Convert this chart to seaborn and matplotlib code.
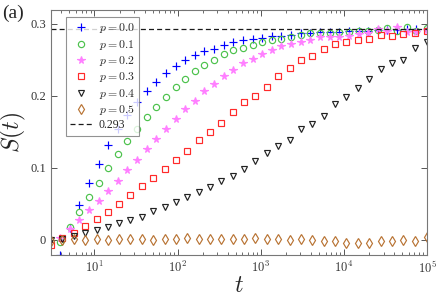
import matplotlib
matplotlib.use("Agg")
import matplotlib.pyplot as plt
import matplotlib.ticker as mticker
import numpy as np
import seaborn as sns

sns.set_theme(style="ticks")
plt.rcParams["font.family"] = ["Liberation Serif", "DejaVu Serif"]
plt.rcParams["mathtext.fontset"] = "cm"

# time grids (two sampling grids)
t_fine = [3.86, 5.04, 6.58, 8.59, 11.2, 14.6, 19.1, 24.9, 32.5, 42.5,
          55.4, 72.4, 94.5, 123, 161, 210, 274, 358, 468, 611,
          797, 1040, 1360, 1770, 2310, 3020, 3940, 5150, 6720, 8770,
          11400, 15000, 19500, 25500, 33300, 43400, 56700, 74000, 100000]
t_coarse = [3.0, 4.11, 5.63, 7.71, 10.6, 14.5, 19.8, 27.1, 37.2, 50.9,
            69.7, 95.5, 131, 179, 245, 336, 460, 630, 863, 1180,
            1620, 2220, 3040, 4160, 5700, 7810, 10700, 14700, 20100, 27500,
            37700, 51600, 70700, 100000]

s_p00 = [-0.021, 0.017, 0.0486, 0.079, 0.106, 0.132, 0.154, 0.1736, 0.1907, 0.206,
         0.219, 0.2315, 0.2407, 0.2493, 0.2565, 0.2615, 0.265, 0.2708, 0.2743, 0.277,
         0.279, 0.2806, 0.2824, 0.2833, 0.2847, 0.287, 0.287, 0.288, 0.2885, 0.289,
         0.2895, 0.290, 0.290, 0.291, 0.291, 0.2915, 0.292, 0.292, 0.292]
s_p01 = [-0.003, 0.0185, 0.039, 0.059, 0.0796, 0.0995, 0.119, 0.1366, 0.154, 0.170,
         0.184, 0.198, 0.2116, 0.2236, 0.2347, 0.243, 0.25, 0.2583, 0.263, 0.267,
         0.2708, 0.274, 0.277, 0.279, 0.282, 0.285, 0.287, 0.287, 0.287, 0.2885,
         0.2885, 0.290, 0.290, 0.2917, 0.294, 0.2905, 0.2948, 0.2895, 0.294]
s_p02 = [0.003, 0.0148, 0.0278, 0.0417, 0.0546, 0.068, 0.0824, 0.0963, 0.111, 0.126,
         0.1405, 0.154, 0.168, 0.1815, 0.193, 0.206, 0.217, 0.228, 0.236, 0.245,
         0.251, 0.258, 0.264, 0.269, 0.272, 0.274, 0.278, 0.281, 0.281, 0.282,
         0.283, 0.2857, 0.287, 0.2926, 0.2893, 0.295, 0.289, 0.288, 0.2917]
s_p03 = [-0.007, 0.002, 0.010, 0.0194, 0.029, 0.039, 0.050, 0.0625, 0.075, 0.0857,
         0.0986, 0.111, 0.124, 0.138, 0.150, 0.162, 0.178, 0.192, 0.200, 0.2115,
         0.228, 0.2385, 0.250, 0.2556, 0.265, 0.272, 0.274, 0.278, 0.279, 0.285,
         0.2824, 0.286, 0.287, 0.290]
s_p04 = [0.0, 0.001, 0.006, 0.009, 0.014, 0.0185, 0.023, 0.028, 0.0324, 0.0407,
         0.0463, 0.0532, 0.060, 0.067, 0.073, 0.082, 0.089, 0.098, 0.110, 0.120,
         0.1296, 0.138, 0.154, 0.161, 0.172, 0.189, 0.198, 0.211, 0.223, 0.2375,
         0.2454, 0.250, 0.266, 0.274]
s_p05 = [-0.002, 0.0, 0.001, 0.0, 0.001, 0.0, 0.001, 0.001, 0.001, 0.0,
         0.001, 0.001, 0.002, 0.001, 0.001, 0.001, 0.001, 0.001, 0.002, 0.001,
         0.001, 0.0, 0.001, 0.0, -0.001, -0.002, -0.005, -0.005, -0.004, -0.002,
         -0.001, 0.0, -0.002, 0.004]
s_inf = 0.293

series = [
    (t_fine, s_p00, r"$p = 0.0$", "+", "#0000ff", 5.5, True),
    (t_fine, s_p01, r"$p = 0.1$", "o", "#4cc24c", 4.5, False),
    (t_fine, s_p02, r"$p = 0.2$", "*", "#ff80ff", 5.5, True),
    (t_coarse, s_p03, r"$p = 0.3$", "s", "#ff2a2a", 4, False),
    (t_coarse, s_p04, r"$p = 0.4$", "v", "#222222", 5, False),
    (t_coarse, s_p05, r"$p = 0.5$", "d", "#b87333", 5, False),
]

fig = plt.figure(figsize=(4.42, 2.98), dpi=100)
ax = fig.add_axes([0.1154, 0.1443, 0.851, 0.822])

for t, s, lab, mk, col, ms, filled in series:
    sns.lineplot(x=t, y=s, ax=ax, marker=mk, linestyle="", color=col,
                 markersize=ms, markerfacecolor=col if filled else "none",
                 markeredgecolor=col, markeredgewidth=0.85, label=lab,
                 estimator=None, sort=False)

ax.axhline(s_inf, color="k", ls="--", lw=0.9, dashes=(4, 2.5), label="0.293")

ax.set_xscale("log")
ax.set_xlim(3, 1e5)
ax.set_ylim(-0.021, 0.319)
ax.set_yticks([0, 0.1, 0.2, 0.3])
ax.yaxis.set_major_formatter(mticker.FuncFormatter(lambda v, _: "0" if v == 0 else f"{v:g}"))
ax.xaxis.set_major_locator(mticker.LogLocator(base=10, numticks=10))
ax.xaxis.set_minor_locator(mticker.LogLocator(base=10, subs=np.arange(2, 10), numticks=20))
ax.xaxis.set_major_formatter(mticker.FuncFormatter(lambda v, _: r"$10^{%d}$" % round(np.log10(v))))
ax.xaxis.set_minor_formatter(mticker.NullFormatter())

ax.tick_params(which="both", direction="in", top=True, right=True,
               colors="#555555", labelsize=9, labelcolor="#333333")
ax.tick_params(which="major", length=4, width=0.7)
ax.tick_params(which="minor", length=2, width=0.6)
for sp in ax.spines.values():
    sp.set_color("#777777")
    sp.set_linewidth(0.8)

ax.set_xlabel(r"$t$", fontsize=17, labelpad=0)
ax.set_ylabel(r"$S(t)$", fontsize=17, labelpad=2)
fig.text(0.005, 0.955, "(a)", fontsize=14, ha="left", va="center")

leg = ax.legend(loc="upper left", bbox_to_anchor=(0.025, 0.995), fontsize=8.5,
                frameon=True, fancybox=False, edgecolor="#777777",
                handlelength=1.8, handletextpad=0.6, borderpad=0.35,
                labelspacing=0.2)
leg.get_frame().set_linewidth(0.8)

fig.savefig("out.png", dpi=100)
